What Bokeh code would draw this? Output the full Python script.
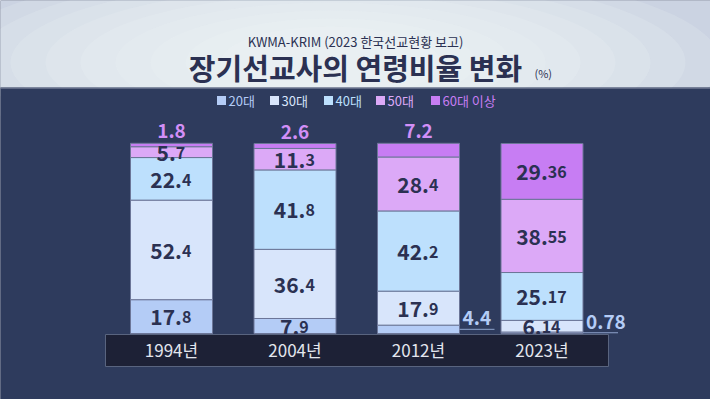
from bokeh.plotting import figure
from bokeh.models import Range1d, ColumnDataSource
from bokeh.core.properties import value
from bokeh.embed import file_html
from bokeh.resources import INLINE

# ---------------- data ----------------
years = ["1994년", "2004년", "2012년", "2023년"]
groups = ["20대", "30대", "40대", "50대", "60대 이상"]
age20 = [17.8, 7.9, 4.4, 0.78]
age30 = [52.4, 36.4, 17.9, 6.14]
age40 = [22.4, 41.8, 42.2, 25.17]
age50 = [5.7, 11.3, 28.4, 38.55]
age60 = [1.8, 2.6, 7.2, 29.36]
subtitle = "KWMA-KRIM (2023 한국선교현황 보고)"
title = "장기선교사의 연령비율 변화"
unit = "(%)"

series = [age20, age30, age40, age50, age60]
keys = ["s20", "s30", "s40", "s50", "s60"]
colors = ["#b4ccf6", "#d8e5fb", "#bde0fd", "#dca9f7", "#c77df3"]

NAVY = "#2e3b5d"
DARK = "#2b3152"
FONT = value("Noto Sans CJK KR")

W, H = 710, 399
X0, DX = 171.0, 123.5     # first bar centre, bar spacing (px)
Y0, DY = 333.0, 1.9       # 0 % baseline (px), px per percent
SHIFT = 6                 # baseline correction (px)
def fx(px):
    return (px - X0) / DX
def fy(py):
    return (Y0 - py) / DY

p = figure(width=W, height=H,
           x_range=Range1d(fx(0), fx(W)), y_range=Range1d(fy(H), fy(0)),
           output_backend="svg", toolbar_location=None, min_border=0,
           x_axis_type=None, y_axis_type=None,
           background_fill_color=NAVY, border_fill_color=NAVY,
           outline_line_color=None)
p.grid.visible = False

# ---------------- header ----------------
p.quad(left=fx(-20), right=fx(730), top=fy(-20), bottom=fy(87),
       fill_color="#cbd3e2", line_color=None)
for k in range(9):
    p.ellipse(x=fx(330), y=fy(62), width=780 - k * 70, height=200 - k * 16,
              width_units="screen", height_units="screen",
              fill_color="#f5f7fb", fill_alpha=0.16, line_color=None)
p.quad(left=fx(-20), right=fx(730), top=fy(87), bottom=fy(420),
       fill_color=NAVY, line_color=None)
p.segment(x0=fx(-20), x1=fx(730), y0=fy(87.5), y1=fy(87.5),
          line_color="#8f98ad", line_width=1)

p.text(x=[fx(355)], y=[fy(41)], text=[subtitle], text_font=FONT,
       text_font_size="13px", text_color=DARK, text_align="center",
       text_baseline="middle")
p.text(x=[fx(355)], y=[fy(66.5)], text=[title], text_font=FONT,
       text_font_size="29px", text_font_style="bold", text_color=DARK,
       text_align="center", text_baseline="middle")
p.text(x=[fx(534)], y=[fy(72)], text=[unit], text_font=FONT,
       text_font_size="11px", text_color=DARK, text_align="left",
       text_baseline="middle")

# ---------------- legend ----------------
leg_px = [221, 274, 328, 380, 435]
p.scatter(x=[fx(v) for v in leg_px], y=[fy(100)] * 5, marker="square",
          size=9, fill_color=colors, line_color=None)
p.text(x=[fx(v + 7) for v in leg_px], y=[fy(99.5)] * 5, text=groups,
       text_font=FONT, text_font_size="13px", text_color=colors,
       text_align="left", text_baseline="middle")

# ---------------- bars ----------------
xs = list(range(len(years)))
data = {"x": xs}
for k, s in zip(keys, series):
    data[k] = s
src = ColumnDataSource(data)
BW = 82 / DX
p.vbar_stack(keys, x="x", width=BW, color=colors, source=src,
             line_color="#6c7698", line_width=1)

# ---------------- value labels ----------------
in_int = dict(x=[], y=[], t=[])
in_dec = dict(x=[], y=[], t=[])
above = dict(x=[], y=[], t=[])
right = dict(x=[], y=[], t=[])
lead = dict(x0=[], x1=[], y=[])
BIG, SMALL = 21, 16
for i in xs:
    bottom = 0.0
    for j, s in enumerate(series):
        v = s[i]
        mid = bottom + v / 2
        txt = f"{v:g}"
        if j == len(series) - 1 and v < 10:
            above["x"].append(i)
            above["y"].append(bottom + v + (6 + SHIFT) / DY)
            above["t"].append(txt)
        elif j == 0 and v < 5:
            right["x"].append(i + BW / 2 + 3 / DX)
            right["y"].append(mid + (5 + SHIFT) / DY)
            right["t"].append(txt)
            lead["x0"].append(i + BW / 2)
            lead["x1"].append(i + BW / 2 + 35 / DX)
            lead["y"].append(mid)
        else:
            ip, dp = txt.split(".")
            ip = ip + "."
            w_int = (len(ip) - 1) * 0.58 * BIG + 0.27 * BIG
            w_dec = len(dp) * 0.58 * SMALL
            split = (w_int - w_dec) / 2
            base = mid + (SHIFT + 1 - 0.37 * BIG) / DY
            in_int["x"].append(i + split / DX)
            in_int["y"].append(base)
            in_int["t"].append(ip)
            in_dec["x"].append(i + split / DX)
            in_dec["y"].append(base)
            in_dec["t"].append(dp)
        bottom += v

p.text(x="x", y="y", text="t", source=ColumnDataSource(in_int),
       text_font=FONT, text_font_size=f"{BIG}px", text_font_style="bold",
       text_color=DARK, text_align="right", text_baseline="alphabetic")
p.text(x="x", y="y", text="t", source=ColumnDataSource(in_dec),
       text_font=FONT, text_font_size=f"{SMALL}px", text_font_style="bold",
       text_color=DARK, text_align="left", text_baseline="alphabetic")
p.text(x="x", y="y", text="t", source=ColumnDataSource(above),
       text_font=FONT, text_font_size="19px", text_font_style="bold",
       text_color="#d28ff7", text_align="center", text_baseline="alphabetic")
p.segment(x0="x0", x1="x1", y0="y", y1="y", source=ColumnDataSource(lead),
          line_color="#8fa3cc", line_width=1)
p.text(x="x", y="y", text="t", source=ColumnDataSource(right),
       text_font=FONT, text_font_size="19px", text_font_style="bold",
       text_color="#b4ccf6", text_align="left", text_baseline="alphabetic")

# ---------------- category box ----------------
p.quad(left=fx(105), right=fx(608), top=fy(334), bottom=fy(366),
       fill_color="#1d2136", line_color="#59647f", line_width=1)
p.text(x=xs, y=[fy(348.5)] * len(xs), text=years, text_font=FONT,
       text_font_size="17px", text_color="#e3e6ee", text_align="center",
       text_baseline="middle")

open("out.html", "w").write(file_html(p, INLINE))
